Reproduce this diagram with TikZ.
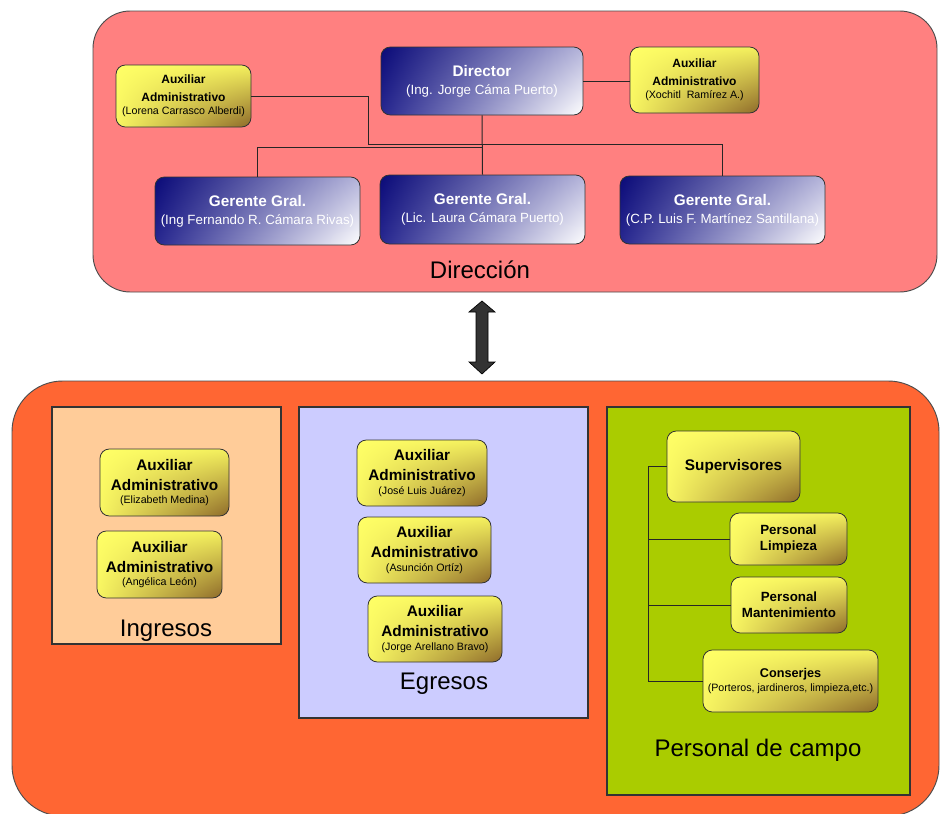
\documentclass[tikz,border=0pt]{standalone}
\usepackage{fontspec}
\setmainfont{Liberation Sans}
\usetikzlibrary{fit,shadings}
\definecolor{pinkbg}{HTML}{FF8080}
\definecolor{orangebg}{HTML}{FF6633}
\definecolor{ingbg}{HTML}{FFCC99}
\definecolor{egrbg}{HTML}{CCCCFF}
\definecolor{campbg}{HTML}{AACC00}
\definecolor{yelA}{HTML}{FFFF66}
\definecolor{yelB}{HTML}{8E6A2A}
\definecolor{yelC}{HTML}{F4F05E}
\definecolor{yelD}{HTML}{F8F662}
\definecolor{navA}{HTML}{0A0A78}
\definecolor{navB}{HTML}{282890}
\definecolor{navC}{HTML}{B4B4DA}
\definecolor{navD}{HTML}{FFFFFF}
\definecolor{edge}{HTML}{333333}
\definecolor{arrowgray}{HTML}{333333}
\newcommand{\fsz}[2]{\fontsize{#1}{#2}\selectfont}
\newcommand{\auxtop}[1]{\shortstack{{\fsz{9}{11}\bfseries Auxiliar}\\[3.9pt]{\fsz{9}{11}\bfseries Administrativo}\\[0.8pt]{\fsz{8}{10}#1}}}
\newcommand{\auxbot}[1]{\shortstack{{\fsz{11.5}{13}\bfseries Auxiliar}\\[3.6pt]{\fsz{11.5}{13}\bfseries Administrativo}\\[1.1pt]{\fsz{8}{10}#1}}}
\newcommand{\mgr}[2]{\shortstack{{\fsz{11.5}{13}\bfseries #1}\\[3pt]{\fsz{10}{12}#2}}}
\newcommand{\twob}[2]{\shortstack{{\fsz{10}{12}\bfseries #1}\\[1.9pt]{\fsz{10}{12}\bfseries #2}}}
\begin{document}
\begin{tikzpicture}[x=0.75pt,y=-0.75pt,
  sz/.style 2 args={minimum width=#1*0.75pt, minimum height=#2*0.75pt},
  ybox/.style={draw=edge, line width=0.6pt, rounded corners=7pt,
    upper left=yelA, upper right=yelC, lower left=yelD, lower right=yelB,
    inner sep=0pt, text=black},
  bbox/.style={draw=edge, line width=0.6pt, rounded corners=7pt,
    upper left=navA, lower left=navB, upper right=navC, lower right=navD,
    inner sep=0pt, text=white},
  panel/.style={draw=edge, line width=1pt, inner sep=0pt},
  area/.style={font=\fsz{18}{20}},
  conn/.style={draw=black!85, line width=0.75pt}
]
\useasboundingbox (0,0) rectangle (940,814);
\clip (0,0) rectangle (940,814);
\fill[white] (0,0) rectangle (940,814);

% ---- Direccion area
\draw[fill=pinkbg, draw=black!70, line width=0.7pt, rounded corners=28pt] (93,11) rectangle (937,292);
\node[area] (dirlab) at (480,270) {Dirección};

% ---- Operations area
\draw[fill=orangebg, draw=black!70, line width=0.7pt, rounded corners=38pt] (12,381) rectangle (939,816);

% ---- double arrow
\draw[fill=arrowgray, draw=black, line width=0.5pt]
  (482,301) -- (495,312) -- (488,312) -- (488,362) -- (495,362) -- (482,374)
  -- (469,362) -- (476,362) -- (476,312) -- (469,312) -- cycle;

% ---- top nodes
\node[ybox, sz={135}{62}] (auxL) at (183.5,96) {\auxtop{(Lorena Carrasco Alberdi)}};
\node[bbox, sz={202}{68}] (dirN) at (482,81) {\mgr{Director}{(Ing. Jorge Cáma Puerto)}};
\node[ybox, sz={129}{66}] (auxR) at (694.5,80) {\auxtop{(Xochitl\ \ Ramírez A.)}};
\node[bbox, sz={205}{68}] (g1) at (257.5,211) {\mgr{Gerente Gral.}{(Ing Fernando R. Cámara Rivas)}};
\node[bbox, sz={205}{69}] (g2) at (482.5,209.5) {\mgr{Gerente Gral.}{(Lic. Laura Cámara Puerto)}};
\node[bbox, sz={205}{68}] (g3) at (722.5,210) {\mgr{Gerente Gral.}{(C.P. Luis F. Martínez Santillana)}};

% ---- top connectors
\coordinate (bus) at (482,147);
\coordinate (k1) at (368,144);
\draw[conn] (dirN.east) -- (dirN.east -| auxR.west);
\draw[conn] (dirN.south) -- (g2.north);
\draw[conn] (bus) -| (g1.north);
\draw[conn] (auxL.east) -| (k1) -| (g3.north);

% ---- panels
\node[panel, fill=ingbg, fit={(52,407) (281,644)}] (ing) {};
\node[panel, fill=egrbg, fit={(299,407) (588,718)}] (egr) {};
\node[panel, fill=campbg, fit={(607,407) (910,795)}] (camp) {};
\node[area] (inglab) at (166,631) {Ingresos};
\node[area] (egrlab) at (444,684) {Egresos};
\node[area] (camplab) at (758,750) {Personal de campo};

% ---- Ingresos
\node[ybox, sz={129}{67}] (i1) at (164.5,482.5) {\auxbot{(Elizabeth Medina)}};
\node[ybox, sz={125}{67}] (i2) at (159.5,564.5) {\auxbot{(Angélica León)}};

% ---- Egresos
\node[ybox, sz={130}{66}] (e1) at (422,473) {\auxbot{(José Luis Juárez)}};
\node[ybox, sz={133}{66}] (e2) at (424.5,550) {\auxbot{(Asunción Ortíz)}};
\node[ybox, sz={134}{66}] (e3) at (435,629) {\auxbot{(Jorge Arellano Bravo)}};

% ---- Personal de campo
\node[ybox, sz={133}{71}] (sup) at (733.5,466.5) {\fsz{11.5}{13}\bfseries Supervisores};
\node[ybox, sz={117}{52}] (lim) at (788.5,539) {\twob{Personal}{Limpieza}};
\node[ybox, sz={116}{56}] (man) at (789,605) {\twob{Personal}{Mantenimiento}};
\node[ybox, sz={175}{62}] (con) at (790.5,681)
  {\shortstack{{\fsz{9.5}{11}\bfseries Conserjes}\\[-0.2pt]{\fsz{8}{10}(Porteros, jardineros, limpieza,etc.)}}};

\coordinate (trunk) at (648,467);
\draw[conn] (sup.west) -- (sup.west -| trunk) |- (con.west);
\draw[conn] (lim.west) -- (lim.west -| trunk);
\draw[conn] (man.west) -- (man.west -| trunk);
\end{tikzpicture}
\end{document}
